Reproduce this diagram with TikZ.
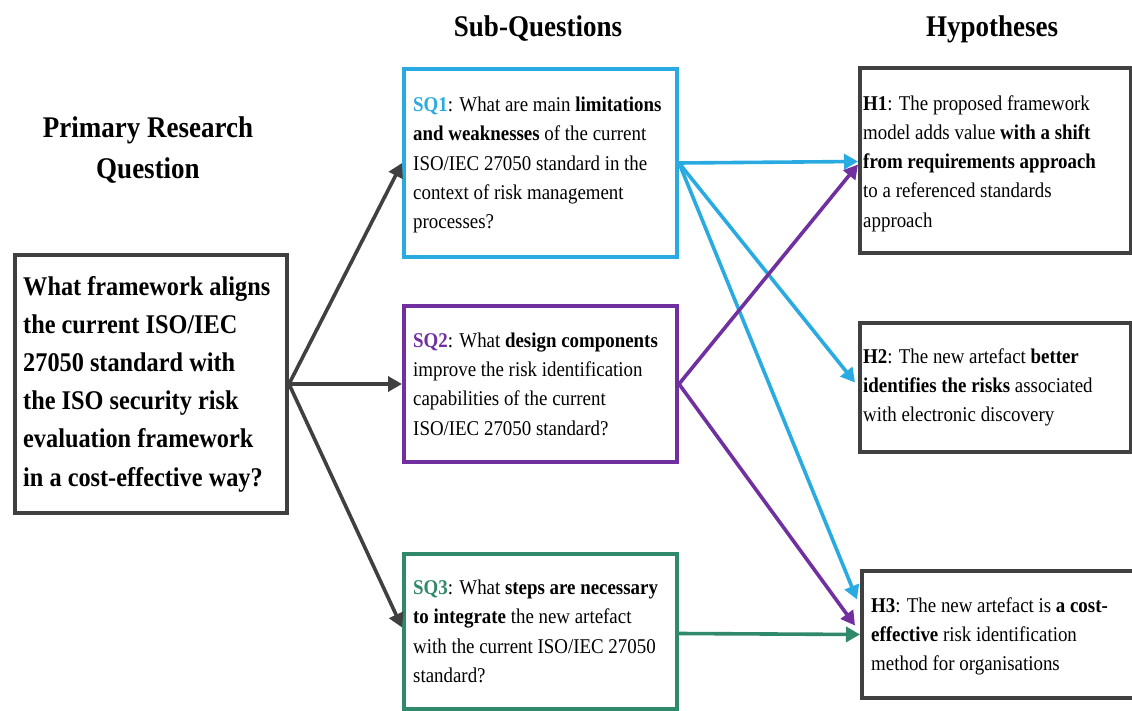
\documentclass[tikz,border=0pt]{standalone}
\usepackage{fontspec}
\setmainfont{Liberation Serif}[FakeStretch=0.9]
\usetikzlibrary{arrows.meta,calc}
\definecolor{sqblue}{RGB}{41,171,226}
\definecolor{sqpurple}{RGB}{112,48,160}
\definecolor{sqgreen}{RGB}{49,137,108}
\definecolor{framegray}{RGB}{64,64,64}

\begin{document}
\begin{tikzpicture}[x=1pt,y=-1pt,
  box/.style={draw=#1, line width=4pt, fill=white, inner sep=0pt, anchor=north west},
  heading/.style={font=\fontsize{30}{41}\selectfont\bfseries, align=center, anchor=base, inner sep=0pt},
  bodytext/.style={font=\fontsize{21}{29.3}\selectfont, align=left, anchor=west, inner sep=0pt},
  conn/.style={draw=#1, line width=3.6pt, -{Triangle[length=14pt,width=15pt]}},
]
\useasboundingbox (0,0) rectangle (1132,711);

% column headings
\node[heading] (hpq) at (148,179) {Primary Research\\Question};
\node[heading] (hsq) at (538,37) {Sub-Questions};
\node[heading] (hhy) at (992,37) {Hypotheses};

% frames
\node[box=framegray, minimum width=272pt, minimum height=258pt] (pq) at (13,253) {};
\node[box=sqblue,    minimum width=273pt, minimum height=188pt] (sq1) at (402,67) {};
\node[box=sqpurple,  minimum width=273pt, minimum height=156pt] (sq2) at (402,304) {};
\node[box=sqgreen,   minimum width=273pt, minimum height=155pt] (sq3) at (402,552) {};
\node[box=framegray, minimum width=271pt, minimum height=185pt] (h1) at (858,66) {};
\node[box=framegray, minimum width=271pt, minimum height=129pt] (h2) at (858,321) {};
\node[box=framegray, minimum width=273pt, minimum height=127pt] (h3) at (860,569) {};

% texts
\node[bodytext, font=\fontsize{27}{38.2}\selectfont\bfseries] (pqt) at ([xshift=10pt]pq.west)
  {What framework aligns\\the current ISO/IEC\\27050 standard with\\the ISO security risk\\evaluation framework\\in a cost-effective way?};
\node[bodytext] (sq1t) at ([xshift=11pt,yshift=-2pt]sq1.west)
  {\textcolor{sqblue}{\textbf{SQ1}}: What are main \textbf{limitations}\\\textbf{and weaknesses} of the current\\ISO/IEC 27050 standard in the\\context of risk management\\processes?};
\node[bodytext] (sq2t) at ([xshift=11pt]sq2.west)
  {\textcolor{sqpurple}{\textbf{SQ2}}: What \textbf{design components}\\improve the risk identification\\capabilities of the current\\ISO/IEC 27050 standard?};
\node[bodytext] (sq3t) at ([xshift=11pt]sq3.west)
  {\textcolor{sqgreen}{\textbf{SQ3}}: What \textbf{steps are necessary}\\\textbf{to integrate} the new artefact\\with the current ISO/IEC 27050\\standard?};
\node[bodytext] (h1t) at ([xshift=5pt,yshift=-3pt]h1.west)
  {\textbf{H1}: The proposed framework\\model adds value \textbf{with a shift}\\\textbf{from requirements approach}\\to a referenced standards\\approach};
\node[bodytext] (h2t) at ([xshift=5pt]h2.west)
  {\textbf{H2}: The new artefact \textbf{better}\\\textbf{identifies the risks} associated\\with electronic discovery};
\node[bodytext] (h3t) at ([xshift=11pt,yshift=-2pt]h3.west)
  {\textbf{H3}: The new artefact is \textbf{a cost-}\\\textbf{effective} risk identification\\method for organisations};

% primary question to sub-questions
\draw[conn=framegray] (pq.east) -- (sq1.west);
\draw[conn=framegray] (pq.east) -- (sq2.west);
\draw[conn=framegray] (pq.east) -- ($(sq3.west)+(0,-4)$);

% sub-questions to hypotheses
\draw[conn=sqblue] (sq1.east) -- ($(h1.west)+(0,1)$);
\draw[conn=sqblue] (sq1.east) -- ($(h2.west)+(-3,-5)$);
\draw[conn=sqblue] (sq1.east) -- ($(h3.west)+(-3,-35)$);
\draw[conn=sqpurple] (sq2.east) -- ($(h1.west)+(0,4)$);
\draw[conn=sqpurple] (sq2.east) -- ($(h3.west)+(-5,-9)$);
\draw[conn=sqgreen] ($(sq3.east)+(0,2)$) -- (h3.west);
\end{tikzpicture}
\end{document}
